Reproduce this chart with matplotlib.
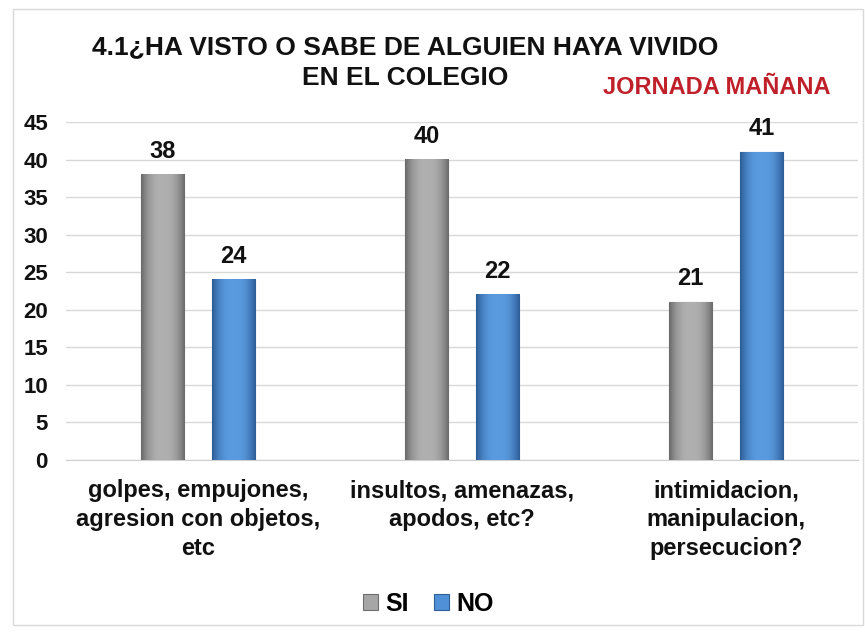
import matplotlib
matplotlib.use('Agg')
import matplotlib.pyplot as plt
import numpy as np
from matplotlib.colors import LinearSegmentedColormap
from matplotlib.patches import Rectangle

categories = ["golpes, empujones,\nagresion con objetos,\netc",
              "insultos, amenazas,\napodos, etc?",
              "intimidacion,\nmanipulacion,\npersecucion?"]
si_values = [38, 40, 21]
no_values = [24, 22, 41]
series_names = ["SI", "NO"]
y_ticks = list(range(0, 50, 5))

plt.rcParams['font.family'] = ['Liberation Sans', 'DejaVu Sans']
plt.rcParams['font.weight'] = 'bold'

fig = plt.figure(figsize=(8.65, 6.33), dpi=100)
fig.patch.set_facecolor('white')
# outer chart border
fig.add_artist(Rectangle((13 / 865, 8 / 633), 850 / 865, 616 / 633,
                         transform=fig.transFigure, fill=False,
                         edgecolor='#D9D9D9', linewidth=1))

ax = fig.add_axes([66 / 865, 1 - 460 / 633, (858 - 66) / 865, (460 - 122) / 633])
x = np.arange(len(categories))
w = 0.165
off = 0.135

# bevel-like shading across each bar
grad = np.abs(np.linspace(-1, 1, 64)) ** 2.5
grad = grad[np.newaxis, :]
gray_cm = LinearSegmentedColormap.from_list('g', ['#B0B0B0', '#6A6A6A'])
blue_cm = LinearSegmentedColormap.from_list('b', ['#5A9BE0', '#2C5C95'])

b1 = ax.bar(x - off, si_values, w, color='#A6A6A6', edgecolor='#6E6E6E', linewidth=0.8, zorder=3)
b2 = ax.bar(x + off, no_values, w, color='#4F90D6', edgecolor='#2F5F94', linewidth=0.8, zorder=3)
for bars, cm in ((b1, gray_cm), (b2, blue_cm)):
    for r in bars:
        x0, h = r.get_x(), r.get_height()
        ax.imshow(grad, cmap=cm, extent=[x0, x0 + r.get_width(), 0, h],
                  aspect='auto', zorder=4, interpolation='bicubic')

for bars, vals in ((b1, si_values), (b2, no_values)):
    for r, v in zip(bars, vals):
        ax.text(r.get_x() + r.get_width() / 2, v + 1.6, str(v), ha='center', va='bottom',
                fontsize=17, fontweight='bold', color='#111111')

ax.set_xlim(-0.5, len(categories) - 0.5)
ax.set_ylim(0, 45)
ax.set_yticks(y_ticks)
ax.set_yticklabels([str(t) for t in y_ticks], fontsize=16, fontweight='bold', color='#111111')
ax.set_xticks(x)
ax.set_xticklabels(categories, fontsize=17, fontweight='bold', color='#111111', linespacing=1.33)
ax.tick_params(axis='both', length=0)
ax.tick_params(axis='y', pad=13)
ax.tick_params(axis='x', pad=14)
ax.grid(axis='y', color='#D9D9D9', linewidth=1, zorder=0)
for s in ['top', 'right', 'left']:
    ax.spines[s].set_visible(False)
ax.spines['bottom'].set_color('#D0D0D0')

fig.text(405 / 865, 1 - 47 / 633, "4.1¿HA VISTO O SABE DE ALGUIEN HAYA VIVIDO",
         ha='center', va='center', fontsize=19, fontweight='bold', color='#111111')
fig.text(405 / 865, 1 - 78 / 633, "EN EL COLEGIO",
         ha='center', va='center', fontsize=19, fontweight='bold', color='#111111')
fig.text(717 / 865, 1 - 88 / 633, "JORNADA MAÑANA", ha='center', va='center',
         fontsize=17, fontweight='bold', color='#C0202A')

leg = fig.legend([b1, b2], series_names, loc='center', bbox_to_anchor=(428 / 865, 1 - 604 / 633),
                 ncol=2, frameon=False, handlelength=0.6, handleheight=0.6,
                 handletextpad=0.3, columnspacing=1.0, prop={'weight': 'bold', 'size': 18})

fig.savefig('out.png', dpi=100, facecolor='white')
